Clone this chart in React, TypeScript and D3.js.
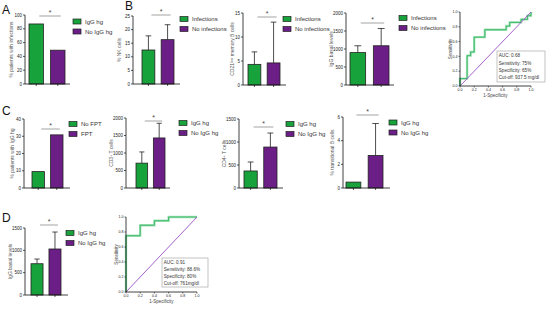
import React from "react";
import * as d3 from "d3";

const W = 550;
const H = 309;
const GREEN = "#17a23b";
const PURPLE = "#6b1e86";
const FONT = "'Liberation Sans', Arial, sans-serif";

// categories
const igGroups = ["IgG hg", "No IgG hg"];
const infGroups = ["Infections", "No infections"];
const fptGroups = ["No FPT", "FPT"];

// panel A
const pctInfValues = [87, 49];
// panel B
const nkValues = [12.5, 16.3];
const nkErr = [17.7, 21.8];
const cd21Values = [4.3, 4.6];
const cd21Err = [6.9, 13.1];
const iggInfValues = [900, 1090];
const iggInfErr = [1090, 1570];
const rocBFpr = [0, 0, 0.1, 0.1, 0.15, 0.15, 0.2, 0.2, 0.35, 0.35, 0.65, 0.65, 0.7, 0.7, 0.86, 0.86, 0.95, 0.95, 1, 1];
const rocBTpr = [0, 0.1, 0.1, 0.41, 0.41, 0.46, 0.46, 0.66, 0.66, 0.76, 0.76, 0.81, 0.81, 0.86, 0.86, 0.9, 0.9, 0.95, 0.95, 1];
const rocBText = ["AUC: 0.68", "Sensitivity: 75%", "Specificity: 65%", "Cut-off: 937.5 mg/dl"];
// panel C
const pctIgGhgValues = [9.5, 30.8];
const cd3Values = [710, 1430];
const cd3Err = [1030, 1850];
const cd4Values = [370, 890];
const cd4Err = [565, 1195];
const transValues = [0.5, 2.75];
const transErr: (number | null)[] = [null, 5.45];
// panel D
const iggDValues = [700, 1030];
const iggDErr = [805, 1410];
const rocDFpr = [0, 0, 0.2, 0.2, 0.4, 0.4, 0.6, 0.6, 1];
const rocDTpr = [0, 0.75, 0.75, 0.89, 0.89, 0.95, 0.95, 1, 1];
const rocDText = ["AUC: 0.91", "Sensitivity: 88.6%", "Specificity: 80%", "Cut-off: 761mg/dl"];

const rocTicks = [0, 0.2, 0.4, 0.6, 0.8, 1.0];

type BarProps = {
  cats: string[];
  values: number[];
  errs?: (number | null)[];
  max: number;
  step: number;
  axisX: number;
  yTop: number;
  yBot: number;
  xEnd: number;
  barRange: [number, number];
  sigY: number;
  legend: [number, number];
  ylabel: React.ReactNode;
  ylabelX: number;
};

function BarPanel(p: BarProps) {
  const y = d3.scaleLinear().domain([0, p.max]).range([p.yBot, p.yTop]);
  const x = d3.scaleBand().domain(p.cats).range(p.barRange).paddingInner(0.33);
  const ticks = d3.range(0, p.max + p.step / 2, p.step);
  const bw = x.bandwidth();
  const colors = [GREEN, PURPLE];
  const c0 = (x(p.cats[0]) as number) + bw / 2;
  const c1 = (x(p.cats[1]) as number) + bw / 2;
  const midY = (p.yTop + p.yBot) / 2;
  return (
    <g fontFamily={FONT}>
      {p.cats.map((c, i) => (
        <rect key={c} x={x(c)} y={y(p.values[i])} width={bw} height={p.yBot - y(p.values[i])}
          fill={colors[i]} stroke="#222" strokeWidth={0.8} />
      ))}
      {p.errs && p.cats.map((c, i) => {
        const e = p.errs![i];
        if (e == null) return null;
        const cx = (x(c) as number) + bw / 2;
        return (
          <g key={"e" + c} stroke="#222" strokeWidth={0.8}>
            <line x1={cx} x2={cx} y1={y(p.values[i])} y2={y(e)} />
            <line x1={cx - bw * 0.22} x2={cx + bw * 0.22} y1={y(e)} y2={y(e)} />
          </g>
        );
      })}
      <line x1={p.axisX} x2={p.axisX} y1={p.yTop} y2={p.yBot} stroke="#111" strokeWidth={0.8} />
      <line x1={p.axisX} x2={p.xEnd} y1={p.yBot} y2={p.yBot} stroke="#111" strokeWidth={0.8} />
      {ticks.map((t) => (
        <g key={t}>
          <line x1={p.axisX - 2} x2={p.axisX} y1={y(t)} y2={y(t)} stroke="#111" strokeWidth={0.7} />
          <text x={p.axisX - 3} y={y(t)} dy="0.35em" fontSize={4.5} textAnchor="end" fill="#222">{t}</text>
        </g>
      ))}
      {[c0, c1].map((cx, i) => (
        <line key={"xt" + i} x1={cx} x2={cx} y1={p.yBot} y2={p.yBot + 2} stroke="#111" strokeWidth={0.7} />
      ))}
      <line x1={c0 + 3} x2={c1 + 3} y1={p.sigY} y2={p.sigY} stroke="#999" strokeWidth={0.9} />
      <text x={(c0 + c1) / 2 + 3} y={p.sigY - 1} fontSize={7} textAnchor="middle" fill="#444">*</text>
      <text transform={`translate(${p.ylabelX},${midY}) rotate(-90)`} fontSize={5} textAnchor="middle" fill="#555">{p.ylabel}</text>
      {p.cats.map((c, i) => (
        <g key={"l" + c}>
          <rect x={p.legend[0]} y={p.legend[1] + i * 10 - 2.5} width={8} height={5} fill={colors[i]} stroke="#222" strokeWidth={0.7} />
          <text x={p.legend[0] + 12} y={p.legend[1] + i * 10} dy="0.35em" fontSize={6} fill="#333">{c}</text>
        </g>
      ))}
    </g>
  );
}

type RocProps = {
  fpr: number[];
  tpr: number[];
  x0: number;
  x1: number;
  yTop: number;
  yBot: number;
  box: [number, number, number, number];
  lines: string[];
};

function RocPanel(p: RocProps) {
  const x = d3.scaleLinear().domain([0, 1]).range([p.x0, p.x1]);
  const y = d3.scaleLinear().domain([0, 1]).range([p.yBot, p.yTop]);
  const pts: [number, number][] = p.fpr.map((f, i) => [f, p.tpr[i]]);
  const line = d3.line<[number, number]>().x((d) => x(d[0])).y((d) => y(d[1]));
  const diag = line([[0, 0], [1, 1]]) as string;
  const [bx, by, bw, bh] = p.box;
  return (
    <g fontFamily={FONT}>
      <path d={line(pts) as string} fill="none" stroke="#a7e3bd" strokeWidth={2.4} />
      <path d={line(pts) as string} fill="none" stroke="#2fb35a" strokeWidth={0.9} />
      <path d={diag} fill="none" stroke="#9b4fc4" strokeWidth={0.9} />
      <line x1={p.x0} x2={p.x0} y1={p.yTop} y2={p.yBot} stroke="#111" strokeWidth={0.8} />
      <line x1={p.x0} x2={p.x1} y1={p.yBot} y2={p.yBot} stroke="#111" strokeWidth={0.8} />
      {rocTicks.map((t) => (
        <g key={t}>
          <line x1={p.x0 - 1.5} x2={p.x0} y1={y(t)} y2={y(t)} stroke="#111" strokeWidth={0.6} />
          <text x={p.x0 - 2.5} y={y(t)} dy="0.35em" fontSize={3.6} textAnchor="end" fill="#222">{t.toFixed(1)}</text>
          <line x1={x(t)} x2={x(t)} y1={p.yBot} y2={p.yBot + 1.5} stroke="#111" strokeWidth={0.6} />
          <text x={x(t)} y={p.yBot + 5} fontSize={3.6} textAnchor="middle" fill="#222">{t.toFixed(1)}</text>
        </g>
      ))}
      <text transform={`translate(${p.x0 - 8},${(p.yTop + p.yBot) / 2}) rotate(-90)`} fontSize={4.5} textAnchor="middle" fill="#444">Sensitivity</text>
      <text x={(p.x0 + p.x1) / 2} y={p.yBot + 11} fontSize={4.5} textAnchor="middle" fill="#444">1-Specificity</text>
      <rect x={p.x0 + bx} y={p.yBot - by} width={bw} height={bh} fill="#fff" stroke="#aaa" strokeWidth={0.7} />
      {p.lines.map((l, i) => (
        <text key={l} x={p.x0 + bx + 1.8} y={p.yBot - by + 6.3 + i * (bh - 2) / 4} fontSize={4.6} fill="#333">{l}</text>
      ))}
    </g>
  );
}

function Letter({ x, y, t }: { x: number; y: number; t: string }) {
  return <text x={x} y={y} fontSize={12} fontFamily={FONT} fill="#111">{t}</text>;
}

export default function App() {
  return (
    <svg width={W} height={H} style={{ position: "absolute", left: 0, top: 0, background: "#fff" }}>
      <rect width={W} height={H} fill="#fff" />
      <Letter x={2} y={14} t="A" />
      <Letter x={125} y={10} t="B" />
      <Letter x={2} y={115} t="C" />
      <Letter x={2} y={222} t="D" />

      <BarPanel cats={igGroups} values={pctInfValues} max={100} step={20} axisX={25} yTop={15} yBot={84} xEnd={70}
        barRange={[29, 65]} sigY={16} legend={[73, 21.5]} ylabel="% patients with infections" ylabelX={13} />

      <BarPanel cats={infGroups} values={nkValues} errs={nkErr} max={25} step={5} axisX={133} yTop={16} yBot={84} xEnd={180}
        barRange={[142, 174]} sigY={15} legend={[180, 19]} ylabel="% NK cells" ylabelX={121} />
      <BarPanel cats={infGroups} values={cd21Values} errs={cd21Err} max={15} step={5} axisX={243} yTop={13} yBot={85} xEnd={286}
        barRange={[248, 280]} sigY={17} legend={[283, 19]}
        ylabel={<>CD21<tspan fontSize={3.5} dy={-1.5}>low</tspan><tspan dy={1.5}> memory B cells</tspan></>} ylabelX={234} />
      <BarPanel cats={infGroups} values={iggInfValues} errs={iggInfErr} max={2000} step={500} axisX={346} yTop={13} yBot={85} xEnd={394}
        barRange={[350, 389]} sigY={23} legend={[399, 18]} ylabel="IgG basal levels" ylabelX={333} />
      <RocPanel fpr={rocBFpr} tpr={rocBTpr} x0={460} x1={531} yTop={12} yBot={86} box={[37, 35, 48, 31]} lines={rocBText} />

      <BarPanel cats={fptGroups} values={pctIgGhgValues} max={40} step={10} axisX={24} yTop={119} yBot={188} xEnd={70}
        barRange={[32, 63]} sigY={129} legend={[69, 124]} ylabel="% patients with IgG hg" ylabelX={14} />
      <BarPanel cats={igGroups} values={cd3Values} errs={cd3Err} max={2000} step={500} axisX={126} yTop={118} yBot={188} xEnd={170}
        barRange={[136, 165]} sigY={121} legend={[179, 123]}
        ylabel={<>CD3<tspan fontSize={3.5} dy={-1.5}>+</tspan><tspan dy={1.5}> T cells</tspan></>} ylabelX={113} />
      <BarPanel cats={igGroups} values={cd4Values} errs={cd4Err} max={1500} step={500} axisX={239} yTop={119} yBot={188} xEnd={283}
        barRange={[244, 277]} sigY={127} legend={[286, 124]}
        ylabel={<>CD4<tspan fontSize={3.5} dy={-1.5}>+</tspan><tspan dy={1.5}> T cells</tspan></>} ylabelX={226} />
      <BarPanel cats={igGroups} values={transValues} errs={transErr} max={6} step={2} axisX={343} yTop={117} yBot={188} xEnd={390}
        barRange={[346, 383]} sigY={115} legend={[389, 122.5]} ylabel="% transitional B cells" ylabelX={334} />

      <BarPanel cats={igGroups} values={iggDValues} errs={iggDErr} max={1500} step={500} axisX={25} yTop={228} yBot={295} xEnd={68}
        barRange={[31, 61]} sigY={225} legend={[66, 233]} ylabel="IgG basal levels" ylabelX={12} />
      <RocPanel fpr={rocDFpr} tpr={rocDTpr} x0={126} x1={197} yTop={217} yBot={292} box={[36, 34, 46, 29]} lines={rocDText} />
    </svg>
  );
}
